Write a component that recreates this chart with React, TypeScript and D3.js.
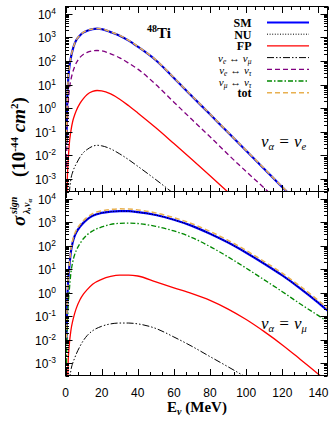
import * as d3 from "d3";

// Energies (MeV) and cross sections (10^-44 cm^2)
const energyTop = [0.5, 1, 1.5, 2, 3, 4, 5, 6, 8, 10, 12, 15, 17.5, 20, 25, 30, 35, 40, 50, 60, 70, 80, 90, 100, 110, 120, 125];
const smTop = [0.032, 2.5, 16, 45, 140, 300, 520, 760, 1200, 1600, 1900, 2200, 2300, 2200, 1650, 1170, 720, 400, 107, 19, 3.2, 0.55, 0.093, 0.016, 0.0027, 0.00045, 0.00019];
const nuTop = [0.03, 2.4, 16, 44, 138, 295, 515, 750, 1190, 1590, 1890, 2190, 2290, 2190, 1640, 1160, 715, 398, 106, 19, 3.2, 0.54, 0.092, 0.016, 0.0027, 0.00045, 0.00019];
const fpTop = [0.00001, 0.001, 0.0063, 0.025, 0.11, 0.28, 0.5, 0.8, 1.6, 2.6, 3.8, 5.1, 5.6, 5.4, 4.0, 2.4, 1.26, 0.63, 0.148, 0.032, 0.0068, 0.0014, 0.00028, 0.000056, 0.000012, 0.0000025, 0.0000011];
const emuTop = [1e-7, 1e-6, 1e-5, 0.00016, 0.001, 0.002, 0.0032, 0.0045, 0.0085, 0.0135, 0.018, 0.0245, 0.027, 0.0257, 0.019, 0.0117, 0.0066, 0.0035, 0.00095, 0.00024, 0.000056, 0.000013, 3e-6, 7e-7, 1.6e-7, 4e-8, 2e-8];
const etauTop = [0.0032, 0.16, 1.6, 5, 16, 33, 56, 83, 140, 190, 230, 265, 275, 265, 200, 135, 80, 45, 10, 1.8, 0.33, 0.062, 0.011, 0.0021, 0.00042, 0.00008, 0.000035];
const totTop = [0.035, 2.7, 17, 47, 145, 310, 535, 780, 1230, 1640, 1950, 2250, 2350, 2250, 1690, 1200, 740, 410, 110, 19.5, 3.3, 0.57, 0.096, 0.0165, 0.0028, 0.00047, 0.0002];

const energyBottom = [0.5, 1, 1.5, 2, 3, 4, 5, 6, 8, 10, 12, 15, 20, 25, 30, 35, 40, 50, 60, 70, 80, 90, 100, 110, 120, 130, 140, 147];
const smBottom = [0.01, 0.5, 3.5, 10, 56, 140, 250, 370, 630, 950, 1300, 1850, 2450, 2800, 2950, 2900, 2650, 2000, 1260, 690, 320, 135, 50, 17, 5.4, 1.5, 0.37, 0.13];
const nuBottom = [0.0095, 0.48, 3.4, 9.8, 55, 138, 248, 366, 625, 945, 1290, 1840, 2440, 2790, 2940, 2890, 2640, 1990, 1250, 685, 318, 134, 50, 17, 5.3, 1.5, 0.37, 0.13];
const fpBottom = [1e-6, 0.00003, 0.0013, 0.005, 0.025, 0.063, 0.126, 0.22, 0.5, 0.89, 1.35, 2.3, 3.7, 4.9, 5.6, 5.6, 5.1, 2.9, 1.6, 0.91, 0.47, 0.2, 0.072, 0.022, 0.006, 0.00145, 0.00034, 0.000126];
const emuBottom = [1e-8, 1e-6, 1e-5, 1e-4, 0.0005, 0.001, 0.0016, 0.0025, 0.0052, 0.0095, 0.015, 0.024, 0.037, 0.047, 0.051, 0.051, 0.047, 0.03, 0.013, 0.0052, 0.0019, 0.0007, 0.00025, 0.000083, 0.000025, 8e-6, 2.5e-6, 1e-6];
const mutauBottom = [0.001, 0.032, 0.32, 1.0, 7, 20, 40, 63, 123, 200, 290, 420, 620, 800, 890, 910, 870, 660, 420, 220, 91, 33, 11, 3.5, 1.1, 0.33, 0.105, 0.047];
const totBottom = [0.012, 0.6, 4.3, 12.5, 70, 175, 310, 460, 780, 1180, 1600, 2300, 3000, 3450, 3650, 3600, 3300, 2450, 1550, 850, 400, 168, 62, 21, 6.7, 1.85, 0.46, 0.16];

const xTickValues = [0, 20, 40, 60, 80, 100, 120, 140];
const yExponents = [-3, -2, -1, 0, 1, 2, 3, 4];

// layout
const W = 332, H = 421;
const left = 65.5, right = 327.5;
const x = d3.scaleLinear().domain([0, 145]).range([left, right]);

const styles = {
  sm: { color: "#0000ff", width: 2.2, dash: "" },
  nu: { color: "#000000", width: 1, dash: "1,1.6" },
  fp: { color: "#ff0000", width: 1.3, dash: "" },
  emu: { color: "#000000", width: 1, dash: "7,2,1.5,2,1.5,2" },
  etau: { color: "#800080", width: 1.3, dash: "5,3" },
  mutau: { color: "#008800", width: 1.3, dash: "5,2,1.5,2" },
  tot: { color: "#e8b050", width: 1.5, dash: "5,3" },
};

const panels = [
  {
    id: "top", top: 6.5, bottom: 191.5, energy: energyTop, minorStep: 5,
    series: [["sm", smTop], ["nu", nuTop], ["fp", fpTop], ["emu", emuTop], ["etau", etauTop], ["tot", totTop]],
    label: "e", labelY: 147,
  },
  {
    id: "bottom", top: 191.5, bottom: 375.5, energy: energyBottom, minorStep: 20 / 3,
    series: [["sm", smBottom], ["nu", nuBottom], ["fp", fpBottom], ["emu", emuBottom], ["mutau", mutauBottom], ["tot", totBottom]],
    label: "μ", labelY: 329,
  },
];

const serif = "'Liberation Serif', 'Times New Roman', serif";
const sans = "'Liberation Sans', Arial, sans-serif";

function Panel({ p }) {
  const y = d3.scaleLog().domain([3e-4, 2e4]).range([p.bottom, p.top]);
  const minorY = [];
  for (let e = -4; e <= 4; e++) {
    for (let k = 2; k <= 9; k++) {
      const v = k * Math.pow(10, e);
      if (v >= 3e-4 && v <= 2e4) minorY.push(v);
    }
  }
  const minorX = d3.range(0, 145.01, p.minorStep).filter((v) => Math.abs(v / 20 - Math.round(v / 20)) > 1e-6);
  const clipId = "clip-" + p.id;
  return (
    <g>
      <defs>
        <clipPath id={clipId}>
          <rect x={left} y={p.top} width={right - left} height={p.bottom - p.top} />
        </clipPath>
      </defs>
      <g clipPath={`url(#${clipId})`}>
        {p.series.map(([key, vals]) => {
          const s = styles[key];
          const line = d3
            .line()
            .x((d, i) => x(p.energy[i]))
            .y((d) => y(d))
            .curve(d3.curveMonotoneX);
          return (
            <path key={key} d={line(vals)} fill="none" stroke={s.color} strokeWidth={s.width}
              strokeDasharray={s.dash || undefined} />
          );
        })}
      </g>
      {/* ticks on all four sides */}
      <g stroke="#000" strokeWidth={1}>
        {yExponents.map((e) => {
          const yy = Math.round(y(Math.pow(10, e))) + 0.5;
          return (
            <g key={e}>
              <line x1={left} x2={left + 7} y1={yy} y2={yy} />
              <line x1={right} x2={right - 7} y1={yy} y2={yy} />
            </g>
          );
        })}
        {minorY.map((v, i) => {
          const yy = Math.round(y(v)) + 0.5;
          return (
            <g key={i}>
              <line x1={left} x2={left + 3.5} y1={yy} y2={yy} />
              <line x1={right} x2={right - 3.5} y1={yy} y2={yy} />
            </g>
          );
        })}
        {xTickValues.map((v) => {
          const xx = Math.round(x(v)) + 0.5;
          return (
            <g key={v}>
              <line x1={xx} x2={xx} y1={p.top} y2={p.top + 6.5} />
              <line x1={xx} x2={xx} y1={p.bottom} y2={p.bottom - 6.5} />
            </g>
          );
        })}
        {minorX.map((v) => {
          const xx = Math.round(x(v)) + 0.5;
          return (
            <g key={v}>
              <line x1={xx} x2={xx} y1={p.top} y2={p.top + 3.5} />
              <line x1={xx} x2={xx} y1={p.bottom} y2={p.bottom - 3.5} />
            </g>
          );
        })}
      </g>
      <rect x={left} y={p.top} width={right - left} height={p.bottom - p.top} fill="none" stroke="#000" strokeWidth={1} />
      {yExponents.map((e) => (
        <text key={e} x={56} y={y(Math.pow(10, e)) + 5} textAnchor="end" fontFamily={sans} fontSize={12}>
          10<tspan dy={-5} fontSize={8.5}>{e}</tspan>
        </text>
      ))}
      <text x={261} y={p.labelY} fontFamily={serif} fontStyle="italic" fontSize={17}>
        ν<tspan dy={3} fontSize={10.5}>α</tspan>
        <tspan dy={-3}> = ν</tspan>
        <tspan dy={3} fontSize={10.5}>{p.label}</tspan>
      </text>
    </g>
  );
}

const legendItems = [
  { key: "sm", label: "SM" },
  { key: "nu", label: "NU" },
  { key: "fp", label: "FP" },
  { key: "emu", label: ["e", "μ"] },
  { key: "etau", label: ["e", "τ"] },
  { key: "mutau", label: ["μ", "τ"] },
  { key: "tot", label: "tot" },
];

function Legend() {
  return (
    <g>
      {legendItems.map((it, i) => {
        const base = 27 + i * 11.7;
        const s = styles[it.key];
        return (
          <g key={it.key}>
            {typeof it.label === "string" ? (
              <text x={251.5} y={base} textAnchor="end" fontFamily={serif} fontWeight="bold" fontSize={12}>
                {it.label}
              </text>
            ) : (
              <text x={251.5} y={base} textAnchor="end" fontFamily={serif} fontStyle="italic" fontSize={11}>
                ν<tspan dy={2} fontSize={7.5}>{it.label[0]}</tspan>
                <tspan dy={-2} fontStyle="normal"> ↔ </tspan>ν
                <tspan dy={2} fontSize={7.5}>{it.label[1]}</tspan>
              </text>
            )}
            <line x1={267} x2={309} y1={base - 4.5} y2={base - 4.5} stroke={s.color} strokeWidth={s.width}
              strokeDasharray={s.dash || undefined} />
          </g>
        );
      })}
    </g>
  );
}

export default function App() {
  return (
    <svg width={W} height={H} style={{ position: "absolute", left: 0, top: 0, background: "#fff" }}>
      {panels.map((p) => (
        <Panel key={p.id} p={p} />
      ))}
      <Legend />
      {/* x tick labels */}
      {xTickValues.map((v) => (
        <text key={v} x={x(v)} y={397} textAnchor="middle" fontFamily={sans} fontSize={12}>
          {v}
        </text>
      ))}
      <text x={197} y={412} textAnchor="middle" fontFamily={serif} fontWeight="bold" fontSize={15}>
        E<tspan dy={3} fontSize={10} fontStyle="italic">ν</tspan>
        <tspan dy={-3}> (MeV)</tspan>
      </text>
      <text x={147} y={38} fontFamily={serif} fontWeight="bold" fontSize={15}>
        <tspan dy={-6} fontSize={10}>48</tspan>
        <tspan dy={6}>Ti</tspan>
      </text>
      {/* y axis title */}
      <g transform="translate(25,226) rotate(-90)">
        <text fontFamily={serif} fontWeight="bold" fontSize={19}>
          <tspan fontStyle="italic">σ</tspan>
          <tspan x={12} dy={-8} fontSize={10} fontStyle="italic">sign</tspan>
          <tspan x={12} dy={13} fontSize={10} fontStyle="italic">λ,ν</tspan>
          <tspan dy={2} fontSize={7} fontStyle="italic">α</tspan>
          <tspan x={49} dy={-7}>(10</tspan>
          <tspan dy={-7} fontSize={11}>-44</tspan>
          <tspan dy={7}> </tspan>
          <tspan fontStyle="italic">cm</tspan>
          <tspan dy={-7} fontSize={11}>2</tspan>
          <tspan dy={7}>)</tspan>
        </text>
      </g>
    </svg>
  );
}
